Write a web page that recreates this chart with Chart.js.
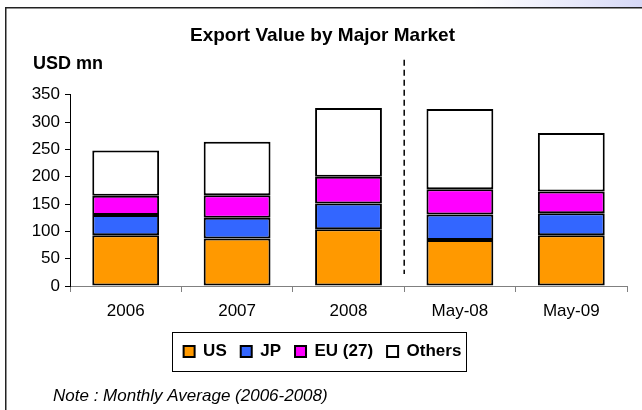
<!DOCTYPE html>
<html>
<head>
<meta charset="utf-8">
<script src="https://cdn.jsdelivr.net/npm/chart.js@4.4.0/dist/chart.umd.min.js"></script>
<style>
  html, body { margin: 0; padding: 0; background: #fff; }
  #wrap { position: relative; width: 642px; height: 410px; }
</style>
</head>
<body>
<div id="wrap"><canvas id="exportChart" width="642" height="410"></canvas></div>
<script>
const categories = ['2006', '2007', '2008', 'May-08', 'May-09'];
const usValues = [93, 87, 104, 84, 93];
const jpValues = [37, 38, 47, 47, 40];
const euValues = [35, 41, 49, 46, 40];
const othersValues = [83, 98, 126, 147, 107];
const yMax = 350;
const yStep = 50;

const FONT = 'Arial, "Liberation Sans", sans-serif';

// frame, title extras, dashed divider, legend box and note
const decorPlugin = {
  id: 'decor',
  beforeDraw: (chart) => {
    const ctx = chart.ctx;
    ctx.save();
    ctx.fillStyle = '#fff';
    ctx.fillRect(0, 0, chart.width, chart.height);
    const grad = ctx.createLinearGradient(470, 0, 642, 0);
    grad.addColorStop(0, 'rgba(220,222,248,0)');
    grad.addColorStop(1, 'rgba(214,216,246,1)');
    ctx.fillStyle = grad;
    ctx.fillRect(470, 0, 172, 7);
    ctx.strokeStyle = '#222';
    ctx.lineWidth = 1.5;
    ctx.strokeRect(5.75, 7.75, 700, 500);
    ctx.restore();
  },
  afterDatasetsDraw: (chart) => {
    const ctx = chart.ctx;
    const x = chart.scales.x;
    const area = chart.chartArea;
    const xm = (x.getPixelForValue(2) + x.getPixelForValue(3)) / 2;
    ctx.save();
    ctx.strokeStyle = '#000';
    ctx.lineWidth = 1.5;
    ctx.setLineDash([6, 4]);
    ctx.beginPath();
    ctx.moveTo(xm, area.top - 35);
    ctx.lineTo(xm, area.bottom - 12);
    ctx.stroke();
    ctx.restore();
  },
  afterDraw: (chart) => {
    const ctx = chart.ctx;
    ctx.save();
    ctx.fillStyle = '#000';
    ctx.textBaseline = 'middle';
    ctx.font = 'bold 18px ' + FONT;
    ctx.fillText('USD mn', 33, 64);
    ctx.font = 'italic 17px ' + FONT;
    ctx.fillText('Note : Monthly Average (2006-2008)', 53, 396);

    const boxes = chart.legend.legendHitBoxes;
    if (boxes && boxes.length) {
      const first = boxes[0];
      const last = boxes[boxes.length - 1];
      ctx.strokeStyle = '#000';
      ctx.lineWidth = 1;
      const left = Math.round(first.left - 12) + 0.5;
      const right = Math.round(last.left + last.width + 5) + 0.5;
      const top = Math.round(first.top - 11) + 0.5;
      const bottom = Math.round(first.top + first.height + 11) + 0.5;
      ctx.strokeRect(left, top, right - left, bottom - top);
    }
    ctx.restore();
  },
};

const makeSet = (label, data, color) => ({
  label: label,
  data: data,
  backgroundColor: color,
  borderColor: '#000',
  borderWidth: 2,
  borderSkipped: false,
  barPercentage: 0.6,
  categoryPercentage: 1,
});

const ctx = document.getElementById('exportChart').getContext('2d');
new Chart(ctx, {
  type: 'bar',
  data: {
    labels: categories,
    datasets: [
      makeSet('US', usValues, '#FF9900'),
      makeSet('JP', jpValues, '#3366FF'),
      makeSet('EU (27)', euValues, '#FF00FF'),
      makeSet('Others', othersValues, '#FFFFFF'),
    ],
  },
  options: {
    responsive: false,
    animation: false,
    devicePixelRatio: 1,
    layout: { padding: { left: 18, right: 15, top: 24, bottom: 40 } },
    plugins: {
      title: {
        display: true,
        text: 'Export Value by Major Market',
        color: '#000',
        font: { family: FONT, size: 19, weight: 'bold' },
        padding: { top: 0, bottom: 48 },
      },
      legend: {
        position: 'bottom',
        labels: {
          color: '#000',
          font: { family: FONT, size: 17, weight: 'bold' },
          boxWidth: 11,
          boxHeight: 11,
          padding: 14,
          generateLabels: (chart) => chart.data.datasets.map((ds, i) => ({
            text: ds.label,
            fillStyle: ds.backgroundColor,
            strokeStyle: '#000',
            lineWidth: 2,
            datasetIndex: i,
          })),
        },
      },
      tooltip: { enabled: false },
    },
    scales: {
      x: {
        stacked: true,
        afterFit: (scale) => { scale.height = 43; },
        ticks: { color: '#000', font: { family: FONT, size: 17 }, padding: 9 },
        grid: { drawOnChartArea: false, tickLength: 6, color: '#808080', offset: true },
        border: { color: '#808080', width: 1 },
      },
      y: {
        stacked: true,
        min: 0,
        max: yMax,
        afterFit: (scale) => { scale.width = 52; },
        ticks: { stepSize: yStep, color: '#000', font: { family: FONT, size: 17 }, padding: 5 },
        grid: { drawOnChartArea: false, tickLength: 5, color: '#000' },
        border: { color: '#000', width: 1 },
      },
    },
  },
  plugins: [decorPlugin],
});
</script>
</body>
</html>
